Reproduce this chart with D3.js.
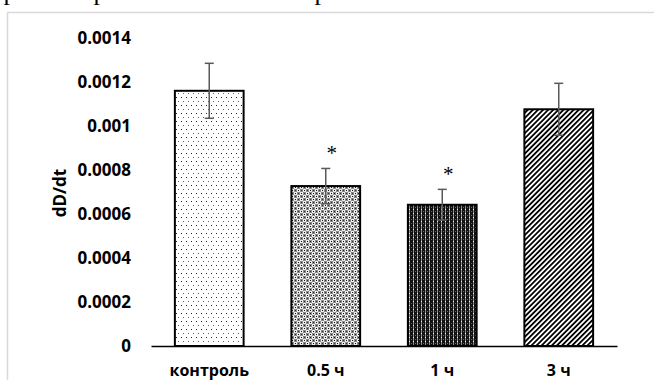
<!DOCTYPE html>
<html>
<head>
<meta charset="utf-8">
<script src="https://cdn.jsdelivr.net/npm/d3@7"></script>
<style>
  body { margin: 0; background: #fff; }
  svg { display: block; }
</style>
</head>
<body>
<div id="chart"></div>
<script>
// data
var categories = ["контроль", "0.5 ч", "1 ч", "3 ч"];
var means = [0.00116, 0.000727, 0.000642, 0.001076];
var errors = [0.000125, 0.00008, 0.00007, 0.000118];
var stars = [false, true, true, false];
var yTicks = [0, 0.0002, 0.0004, 0.0006, 0.0008, 0.001, 0.0012, 0.0014];
var fills = ["url(#pDots)", "url(#pLattice)", "url(#pDark)", "url(#pDiag)"];

var width = 654, height = 380;
var svg = d3.select("#chart").append("svg")
    .attr("width", width)
    .attr("height", height);

// patterns for the bars
var defs = svg.append("defs");

var p1 = defs.append("pattern").attr("id", "pDots")
    .attr("patternUnits", "userSpaceOnUse").attr("width", 5).attr("height", 8);
p1.append("rect").attr("width", 5).attr("height", 8).attr("fill", "#fff");
p1.append("rect").attr("x", 1).attr("y", 1).attr("width", 1).attr("height", 1).attr("fill", "#222");
p1.append("rect").attr("x", 3).attr("y", 5).attr("width", 1).attr("height", 1).attr("fill", "#666");

var p2 = defs.append("pattern").attr("id", "pLattice")
    .attr("patternUnits", "userSpaceOnUse").attr("width", 6).attr("height", 6);
p2.append("rect").attr("width", 6).attr("height", 6).attr("fill", "#888");
p2.append("rect").attr("x", 0).attr("y", 0).attr("width", 3).attr("height", 3).attr("fill", "#eee");
p2.append("rect").attr("x", 3).attr("y", 3).attr("width", 3).attr("height", 3).attr("fill", "#eee");
p2.append("rect").attr("x", 1).attr("y", 1).attr("width", 1).attr("height", 1).attr("fill", "#111");
p2.append("rect").attr("x", 4).attr("y", 4).attr("width", 1).attr("height", 1).attr("fill", "#111");
p2.append("rect").attr("x", 4).attr("y", 1).attr("width", 1).attr("height", 1).attr("fill", "#333");
p2.append("rect").attr("x", 1).attr("y", 4).attr("width", 1).attr("height", 1).attr("fill", "#333");

var p3 = defs.append("pattern").attr("id", "pDark")
    .attr("patternUnits", "userSpaceOnUse").attr("width", 4).attr("height", 4);
p3.append("rect").attr("width", 4).attr("height", 4).attr("fill", "#111");
p3.append("rect").attr("x", 1).attr("y", 0).attr("width", 1).attr("height", 4).attr("fill", "#888");
p3.append("rect").attr("x", 1).attr("y", 1).attr("width", 1).attr("height", 1).attr("fill", "#eee");
p3.append("rect").attr("x", 3).attr("y", 3).attr("width", 1).attr("height", 1).attr("fill", "#666");

var p4 = defs.append("pattern").attr("id", "pDiag")
    .attr("patternUnits", "userSpaceOnUse").attr("width", 3.6).attr("height", 10)
    .attr("patternTransform", "rotate(45)");
p4.append("rect").attr("width", 3.6).attr("height", 10).attr("fill", "#fff");
p4.append("rect").attr("width", 1.8).attr("height", 10).attr("fill", "#000");

// clipped text from the page above the chart
svg.selectAll("text.frag")
    .data([10, 100, 321])
    .enter().append("text")
    .attr("class", "frag")
    .attr("x", function(d) { return d; })
    .attr("y", 0)
    .attr("text-anchor", "middle")
    .style("font-family", "Liberation Serif, serif")
    .style("font-size", "26px")
    .text("р");

// chart area border
svg.append("rect")
    .attr("x", 7.5).attr("y", 12.5)
    .attr("width", 700).attr("height", 400)
    .attr("fill", "none")
    .attr("stroke", "#d9d9d9")
    .attr("stroke-width", 1.5);

var x = d3.scaleBand()
    .domain(categories)
    .range([151, 617])
    .paddingInner(0.41)
    .paddingOuter(0.205);

var y = d3.scaleLinear()
    .domain([0, 0.0014])
    .range([346, 38]);

var font = "Open Sans, Lato, sans-serif";

// y axis labels only
var yAxis = svg.append("g")
    .attr("transform", "translate(151,0)")
    .call(d3.axisLeft(y).tickValues(yTicks).tickSize(0).tickPadding(20)
        .tickFormat(function(d) { return d === 0 ? "0" : String(+d.toFixed(4)); }));
yAxis.select(".domain").remove();
yAxis.selectAll("text")
    .style("font-family", font)
    .style("font-weight", "bold")
    .style("font-size", "17px")
    .attr("fill", "#000");

// bars
svg.selectAll("rect.bar")
    .data(categories)
    .enter().append("rect")
    .attr("class", "bar")
    .attr("x", function(d) { return x(d); })
    .attr("y", function(d, i) { return y(means[i]); })
    .attr("width", x.bandwidth())
    .attr("height", function(d, i) { return y(0) - y(means[i]); })
    .attr("fill", function(d, i) { return fills[i]; })
    .attr("stroke", "#000")
    .attr("stroke-width", 2);

// error bars
var eb = svg.selectAll("g.err")
    .data(categories)
    .enter().append("g")
    .attr("class", "err")
    .attr("stroke", "#595959")
    .attr("stroke-width", 1.5);
eb.append("line")
    .attr("x1", function(d) { return x(d) + x.bandwidth() / 2; })
    .attr("x2", function(d) { return x(d) + x.bandwidth() / 2; })
    .attr("y1", function(d, i) { return y(means[i] - errors[i]); })
    .attr("y2", function(d, i) { return y(means[i] + errors[i]); });
eb.append("line")
    .attr("x1", function(d) { return x(d) + x.bandwidth() / 2 - 4.5; })
    .attr("x2", function(d) { return x(d) + x.bandwidth() / 2 + 4.5; })
    .attr("y1", function(d, i) { return y(means[i] + errors[i]); })
    .attr("y2", function(d, i) { return y(means[i] + errors[i]); });
eb.append("line")
    .attr("x1", function(d) { return x(d) + x.bandwidth() / 2 - 4.5; })
    .attr("x2", function(d) { return x(d) + x.bandwidth() / 2 + 4.5; })
    .attr("y1", function(d, i) { return y(means[i] - errors[i]); })
    .attr("y2", function(d, i) { return y(means[i] - errors[i]); });

// significance marks
svg.selectAll("text.star")
    .data(categories.filter(function(d, i) { return stars[i]; }))
    .enter().append("text")
    .attr("class", "star")
    .attr("x", function(d) { return x(d) + x.bandwidth() / 2 + 6; })
    .attr("y", function(d) {
        var i = categories.indexOf(d);
        return y(means[i] + errors[i]) - 8;
    })
    .attr("text-anchor", "middle")
    .style("font-family", "Liberation Serif, serif")
    .style("font-size", "21px")
    .text("*");

// x axis
var xAxis = svg.append("g")
    .attr("transform", "translate(0,346)")
    .call(d3.axisBottom(x).tickSize(0).tickPadding(19));
xAxis.select(".domain")
    .attr("stroke", "#000")
    .attr("stroke-width", 1.5);
xAxis.selectAll("text")
    .style("font-family", font)
    .style("font-weight", "bold")
    .style("font-size", "16px")
    .attr("fill", "#000");

// y axis title
svg.append("text")
    .attr("transform", "translate(66,193) rotate(-90)")
    .attr("text-anchor", "middle")
    .style("font-family", font)
    .style("font-weight", "bold")
    .style("font-size", "17px")
    .text("dD/dt");
</script>
</body>
</html>
